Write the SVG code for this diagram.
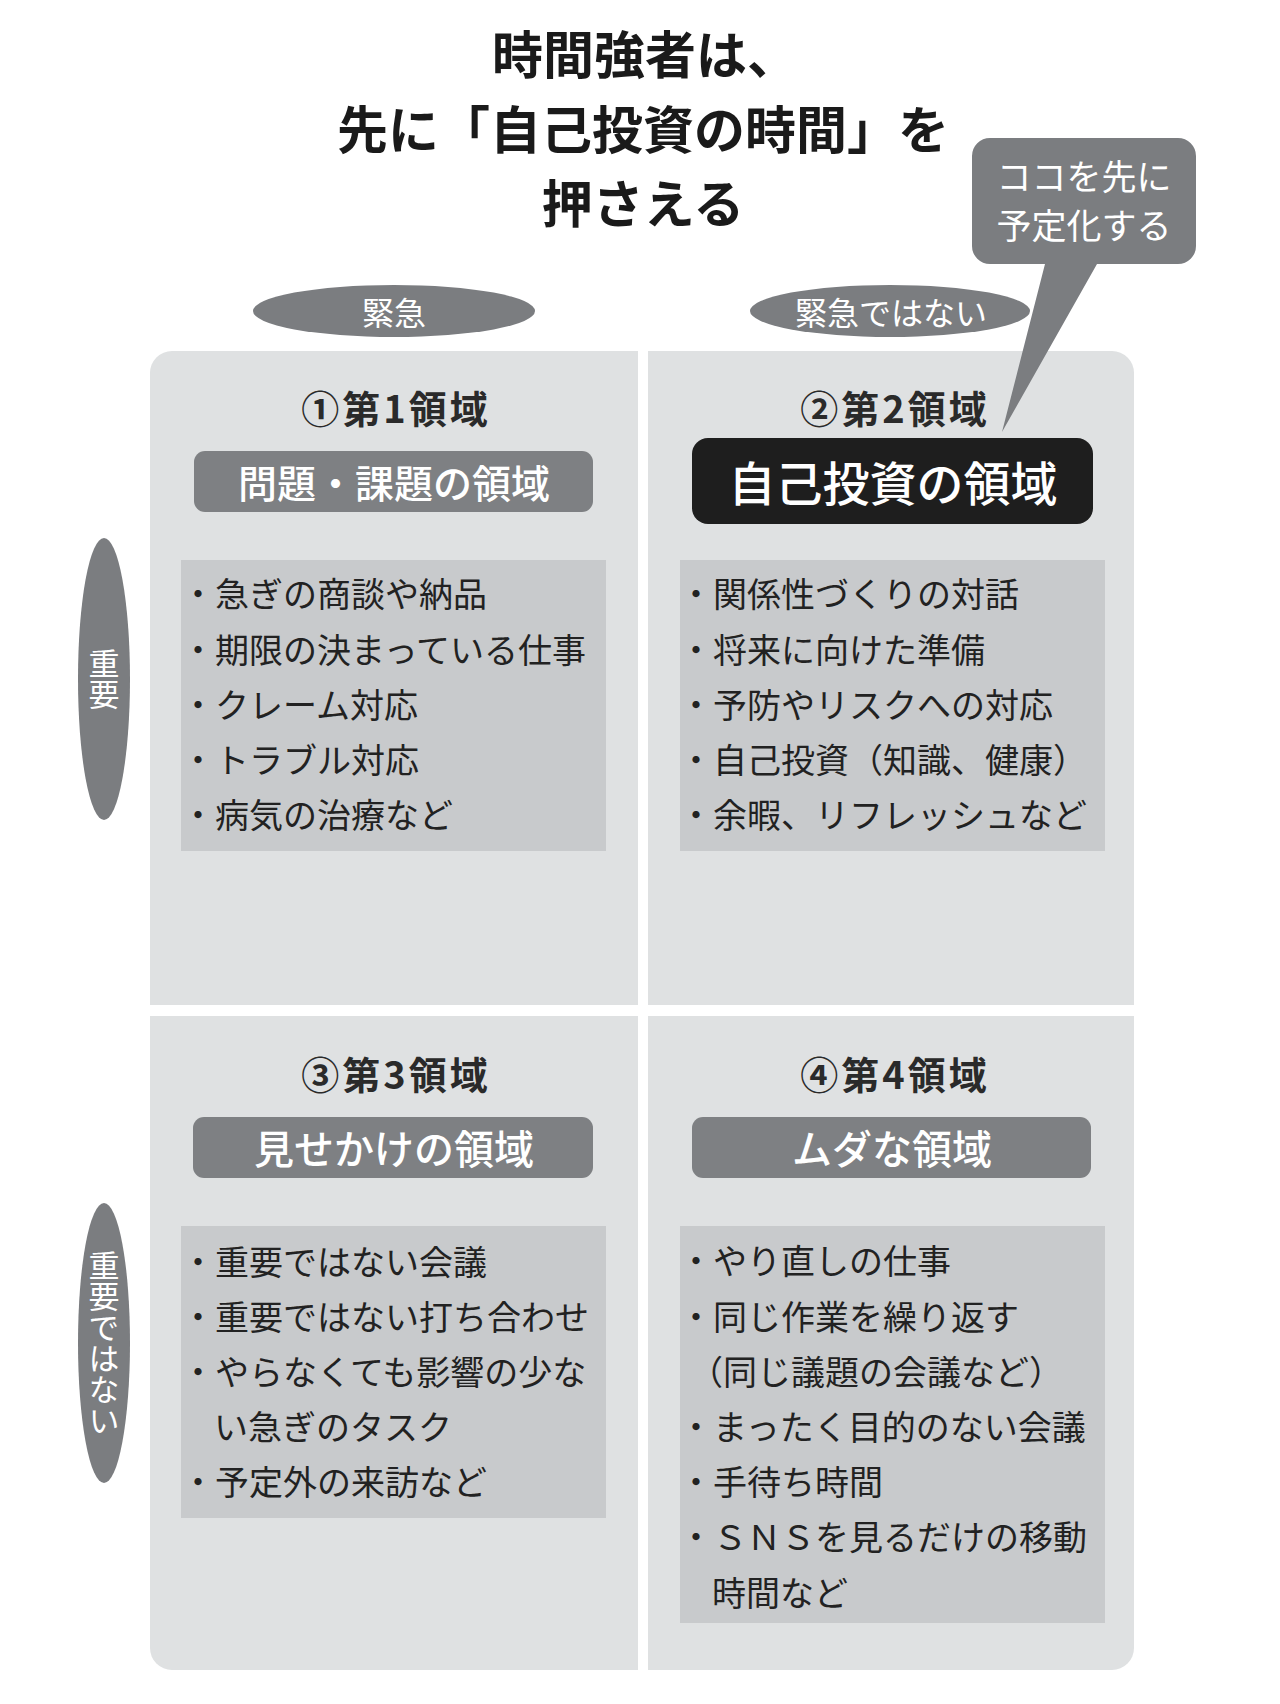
<svg xmlns="http://www.w3.org/2000/svg" width="1280" height="1704" viewBox="0 0 1280 1704">
<style>
text{font-family:"Noto Sans CJK JP","Noto Sans",sans-serif;dominant-baseline:central}
.title{font-size:51px;font-weight:700;fill:#1a1a1a;text-anchor:middle}
.quad{fill:#dfe1e2}
.list{fill:#c8cacc}
.gray{fill:#7e8083}
.oval{fill:#7b7d80}
.ovt{font-size:32px;fill:#fff;text-anchor:middle}
.vt{font-size:31px;fill:#fff;text-anchor:middle;writing-mode:vertical-rl}
.head{font-size:38px;font-weight:700;fill:#2a2a2a;text-anchor:middle;letter-spacing:3px}
.sub{font-size:40px;font-weight:500;fill:#fff;text-anchor:middle}
.li{font-size:34px;fill:#222}
.bt{font-size:35px;fill:#fff;text-anchor:middle}
</style>
<rect width="1280" height="1704" fill="#fff"/>
<g id="title">
<text class="title" x="645" y="52">時間強者は、</text>
<text class="title" x="643" y="127">先に「自己投資の時間」を</text>
<text class="title" x="643" y="201">押さえる</text>
</g>
<g id="q1">
<path class="quad" d="M150,1005 V373 A22,22 0 0 1 172,351 H638 V1005 Z"/>
<text class="head" x="396" y="406">①第1領域</text>
<rect class="gray" x="194" y="451" width="399" height="61" rx="11"/>
<text class="sub" style="font-size:39px" x="394" y="481">問題・課題の領域</text>
<rect class="list" x="181" y="560" width="425" height="291"/>
<text class="li" x="181" y="592">・急ぎの商談や納品</text>
<text class="li" x="181" y="648">・期限の決まっている仕事</text>
<text class="li" x="181" y="703">・クレーム対応</text>
<text class="li" x="181" y="758">・トラブル対応</text>
<text class="li" x="181" y="813">・病気の治療など</text>
</g>
<g id="q2">
<path class="quad" d="M648,351 H1112 A22,22 0 0 1 1134,373 V1005 H648 Z"/>
<text class="head" x="895" y="406">②第2領域</text>
<rect x="692" y="438" width="401" height="86" rx="16" fill="#1e1e1e"/>
<text class="sub" style="font-size:47px" x="893" y="480">自己投資の領域</text>
<rect class="list" x="680" y="560" width="425" height="291"/>
<text class="li" x="679" y="592">・関係性づくりの対話</text>
<text class="li" x="679" y="648">・将来に向けた準備</text>
<text class="li" x="679" y="703">・予防やリスクへの対応</text>
<text class="li" x="679" y="758">・自己投資（知識、健康）</text>
<text class="li" x="679" y="813">・余暇、リフレッシュなど</text>
</g>
<g id="q3">
<path class="quad" d="M150,1016 H638 V1670 H172 A22,22 0 0 1 150,1648 Z"/>
<text class="head" x="396" y="1072">③第3領域</text>
<rect class="gray" x="193" y="1117" width="400" height="61" rx="11"/>
<text class="sub" x="394" y="1147">見せかけの領域</text>
<rect class="list" x="181" y="1226" width="425" height="292"/>
<text class="li" x="181" y="1260">・重要ではない会議</text>
<text class="li" x="181" y="1315">・重要ではない打ち合わせ</text>
<text class="li" x="181" y="1370">・やらなくても影響の少な</text>
<text class="li" x="214" y="1425">い急ぎのタスク</text>
<text class="li" x="181" y="1480">・予定外の来訪など</text>
</g>
<g id="q4">
<path class="quad" d="M648,1016 H1134 V1648 A22,22 0 0 1 1112,1670 H648 Z"/>
<text class="head" x="895" y="1072">④第4領域</text>
<rect class="gray" x="692" y="1117" width="399" height="61" rx="11"/>
<text class="sub" x="892" y="1147">ムダな領域</text>
<rect class="list" x="680" y="1226" width="425" height="397"/>
<text class="li" x="679" y="1259">・やり直しの仕事</text>
<text class="li" x="679" y="1315">・同じ作業を繰り返す</text>
<text class="li" x="689" y="1370">（同じ議題の会議など）</text>
<text class="li" x="679" y="1425">・まったく目的のない会議</text>
<text class="li" x="679" y="1480">・手待ち時間</text>
<text class="li" x="679" y="1535">・ＳＮＳを見るだけの移動</text>
<text class="li" x="712" y="1591">時間など</text>
</g>
<g id="axis-urgent">
<ellipse class="oval" cx="394" cy="311" rx="141" ry="26"/>
<text class="ovt" x="394" y="311">緊急</text>
</g>
<g id="axis-not-urgent">
<ellipse class="oval" cx="890" cy="311" rx="140" ry="26"/>
<text class="ovt" x="891" y="311">緊急ではない</text>
</g>
<g id="axis-important">
<ellipse class="oval" cx="104" cy="679" rx="26" ry="141"/>
<text class="vt" x="104" y="679">重要</text>
</g>
<g id="axis-not-important">
<ellipse class="oval" cx="104" cy="1343" rx="26" ry="140"/>
<text class="vt" x="104" y="1343">重要ではない</text>
</g>
<g id="callout">
<path class="oval" d="M990,138 H1178 A18,18 0 0 1 1196,156 V246 A18,18 0 0 1 1178,264 H1097 L1002,432 L1045,264 H990 A18,18 0 0 1 972,246 V156 A18,18 0 0 1 990,138 Z"/>
<text class="bt" x="1084" y="174">ココを先に</text>
<text class="bt" x="1084" y="223">予定化する</text>
</g>
<g id="connectors"/>
</svg>
